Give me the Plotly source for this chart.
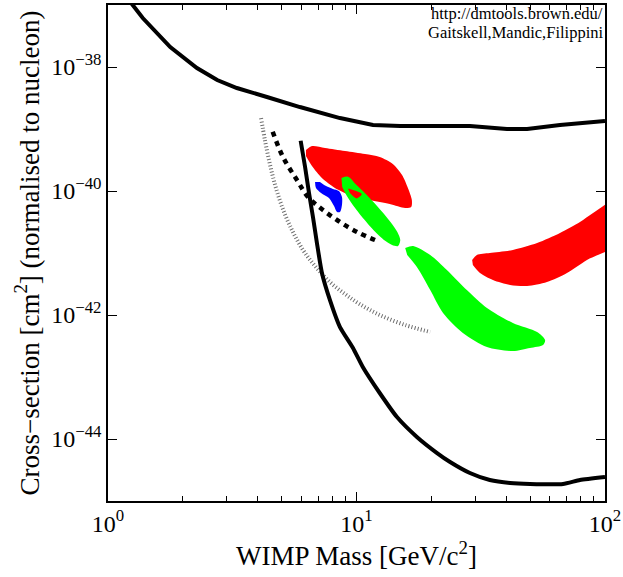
import plotly.graph_objects as go

# ---------------- data ----------------
# upper exclusion limit curve (solid black)
upper_mass = [1.20, 1.26, 1.38, 1.78, 2.28, 2.75, 3.30, 4.36, 5.92, 8.58, 11.65, 15.0, 28.6, 40.3, 48.6, 65.9, 100.0]
upper_xsec = [1.27e-37, 1.0e-37, 6.17e-38, 2.10e-38, 9.64e-39, 6.17e-39, 4.58e-39, 3.28e-39, 2.26e-39,
              1.50e-39, 1.16e-39, 1.12e-39, 1.12e-39, 1.0e-39, 1.0e-39, 1.16e-39, 1.35e-39]

# lower exclusion limit curve (solid black)
lower_mass = [5.96, 6.21, 6.44, 6.68, 6.93, 7.26, 7.82, 8.58, 9.68, 10.6, 12.4, 14.55, 17.5, 21.1,
              23.8, 28.6, 34.4, 41.5, 49.9, 67.8, 79.3, 100.0]
lower_xsec = [6.47e-40, 2.44e-40, 9.29e-41, 3.81e-41, 1.45e-41, 4.76e-42, 1.74e-42, 6.40e-43, 2.94e-43,
              1.45e-43, 5.52e-44, 2.26e-44, 1.08e-44, 5.94e-45, 4.26e-45, 2.83e-45, 2.18e-45, 1.95e-45,
              1.88e-45, 1.88e-45, 2.18e-45, 2.44e-45]

# dashed black curve
dashed_mass = [4.60, 5.06, 5.76, 6.38, 7.33, 8.58, 10.05, 11.87]
dashed_xsec = [9.04e-40, 3.53e-40, 1.50e-40, 8.0e-41, 4.94e-41, 3.16e-41, 2.18e-41, 1.62e-41]

# dotted grey curve
dotted_mass = [4.13, 4.28, 4.49, 4.74, 5.11, 5.55, 6.09, 6.81, 7.82, 8.99, 10.3, 12.4, 15.7, 19.8]
dotted_xsec = [1.50e-39, 6.65e-40, 2.63e-40, 1.12e-40, 4.58e-41, 2.18e-41, 1.12e-41, 6.17e-42, 3.40e-42,
               2.18e-42, 1.50e-42, 1.0e-42, 6.90e-43, 5.32e-43]

# red region 1
red1_mass = [6.26, 6.62, 7.47, 8.99, 10.82, 12.4, 14.0, 15.25, 16.1, 16.7, 16.6, 15.7, 13.6, 11.3,
             9.41, 8.19, 7.26, 6.62, 6.26]
red1_xsec = [4.58e-40, 5.32e-40, 4.94e-40, 4.42e-40, 3.95e-40, 3.53e-40, 2.72e-40, 1.81e-40, 1.12e-40,
             7.16e-41, 5.52e-41, 5.32e-41, 6.17e-41, 7.16e-41, 8.61e-41, 1.12e-40, 1.62e-40, 2.53e-40,
             3.67e-40]

# blue region
blue_mass = [6.81, 6.87, 7.20, 7.75, 8.12, 8.35, 8.58, 8.74, 8.74, 8.50, 8.04, 7.54, 7.13]
blue_xsec = [1.40e-40, 1.12e-40, 9.29e-41, 7.71e-41, 5.73e-41, 4.58e-41, 4.58e-41, 5.94e-41, 8.0e-41,
             1.0e-40, 1.08e-40, 1.20e-40, 1.40e-40]

# green region 1
green1_mass = [8.70, 9.25, 10.0, 10.8, 11.7, 12.7, 13.7, 14.6, 15.0, 14.7, 13.9, 12.9, 11.8, 10.7,
               9.80, 9.15, 8.76]
green1_xsec = [1.62e-40, 1.70e-40, 1.25e-40, 9.29e-41, 6.65e-41, 4.58e-41, 3.16e-41, 2.18e-41, 1.62e-41,
               1.30e-41, 1.35e-41, 1.62e-41, 2.26e-41, 3.53e-41, 5.52e-41, 8.30e-41, 1.16e-40]

# small red gap inside green region 1
hole_mass = [9.24, 10.5, 10.0, 9.41]
hole_xsec = [1.10e-40, 8.95e-41, 7.60e-41, 9.29e-41]

# green region 2
green2_mass = [15.7, 16.9, 19.8, 23.1, 27.8, 33.5, 42.6, 53.3, 57.4, 56.3, 49.9, 42.6, 33.5, 26.8,
               22.3, 19.8, 17.5, 16.0]
green2_xsec = [1.20e-41, 1.30e-41, 9.29e-42, 5.32e-42, 2.53e-42, 1.30e-42, 7.43e-43, 5.32e-43, 3.95e-43,
               3.28e-43, 2.94e-43, 2.63e-43, 3.05e-43, 5.13e-43, 1.08e-42, 2.53e-42, 5.94e-42, 9.29e-42]

# red region 2
red2_mass = [29.2, 30.5, 34.4, 42.6, 53.3, 65.9, 79.3, 89.5, 115.0, 115.0, 84.6, 70.3, 58.4, 48.6,
             41.5, 35.4, 31.4, 29.4]
red2_xsec = [7.71e-42, 9.29e-42, 1.0e-41, 1.12e-41, 1.45e-41, 2.10e-41, 3.16e-41, 4.42e-41, 7.71e-41,
             1.50e-41, 7.71e-42, 4.76e-42, 3.40e-42, 2.94e-42, 3.05e-42, 3.67e-42, 4.76e-42, 6.40e-42]

x_tickvals = [1, 10, 100]
x_ticktext = ["10<sup>0</sup>", "10<sup>1</sup>", "10<sup>2</sup>"]
x_minorvals = [2, 3, 4, 5, 6, 7, 8, 9, 20, 30, 40, 50, 60, 70, 80, 90]
y_tickvals = [1e-44, 1e-42, 1e-40, 1e-38]
y_ticktext = ["10<sup>\u221244</sup>", "10<sup>\u221242</sup>", "10<sup>\u221240</sup>", "10<sup>\u221238</sup>"]

credit_lines = ["http://dmtools.brown.edu/", "Gaitskell,Mandic,Filippini"]

# ---------------- figure ----------------
FONT = "Liberation Serif, Times New Roman, serif"
fig = go.Figure()

def region(mx, sy, color):
    fig.add_trace(go.Scatter(x=mx, y=sy, mode="lines", fill="toself", fillcolor=color,
                             line=dict(width=0, color=color, shape="spline", smoothing=0.8),
                             hoverinfo="skip", showlegend=False))

region(red1_mass, red1_xsec, "#ff0000")
region(red2_mass, red2_xsec, "#ff0000")
region(blue_mass, blue_xsec, "#0000ff")
region(green1_mass, green1_xsec, "#00ff00")
region(hole_mass, hole_xsec, "#ff0000")
region(green2_mass, green2_xsec, "#00ff00")

fig.add_trace(go.Scatter(x=dotted_mass, y=dotted_xsec, mode="lines", line_shape="spline",
                         line=dict(color="#6e6e6e", width=4, dash="1px,2.2px"), showlegend=False))
fig.add_trace(go.Scatter(x=dashed_mass, y=dashed_xsec, mode="lines", line_shape="spline",
                         line=dict(color="black", width=4.5, dash="5px,5px"), showlegend=False))
fig.add_trace(go.Scatter(x=upper_mass, y=upper_xsec, mode="lines",
                         line=dict(color="black", width=4), showlegend=False))
fig.add_trace(go.Scatter(x=lower_mass, y=lower_xsec, mode="lines",
                         line=dict(color="black", width=4, shape="spline", smoothing=0.5), showlegend=False))

axis_common = dict(showline=True, linecolor="black", linewidth=1.5, mirror="allticks",
                   ticks="inside", tickcolor="black", tickwidth=1.2, showgrid=False, zeroline=False,
                   tickfont=dict(family=FONT, size=24, color="black"))

fig.update_xaxes(type="log", range=[0, 2], tickmode="array", tickvals=x_tickvals, ticktext=x_ticktext,
                 ticklen=9,
                 minor=dict(ticks="inside", ticklen=5, tickcolor="black", tickwidth=1,
                            tickmode="array", tickvals=x_minorvals, showgrid=False),
                 title=dict(text="WIMP Mass [GeV/c<sup>2</sup>]", font=dict(family=FONT, size=27, color="black"),
                            standoff=6),
                 **axis_common)
fig.update_yaxes(type="log", range=[-45, -37], tickmode="array", tickvals=y_tickvals, ticktext=y_ticktext,
                 ticklen=9,
                 title=dict(text="Cross\u2212section [cm<sup>2</sup>] (normalised to nucleon)",
                            font=dict(family=FONT, size=27, color="black"), standoff=4),
                 **axis_common)

for line_text, ypos in zip(credit_lines, [0.982, 0.944]):
    fig.add_annotation(text=line_text, xref="paper", yref="paper", x=0.999, y=ypos,
                       xanchor="right", yanchor="middle", showarrow=False,
                       font=dict(family=FONT, size=16.5, color="black"))

fig.update_layout(width=623, height=577, margin=dict(l=108, r=18, t=5, b=76, autoexpand=False),
                  plot_bgcolor="white", paper_bgcolor="white", showlegend=False)

fig.write_html("out.html")
